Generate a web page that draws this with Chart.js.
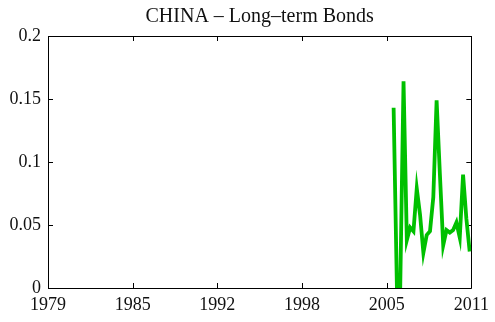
<!DOCTYPE html>
<html>
<head>
<meta charset="utf-8">
<script src="https://cdn.jsdelivr.net/npm/chart.js@4/dist/chart.umd.min.js"></script>
<style>
html,body{margin:0;padding:0;background:#fff;}
#wrap{width:495px;height:322px;position:relative;}
</style>
</head>
<body>
<div id="wrap"><canvas id="c" width="495" height="322"></canvas></div>
<script>
const chartTitle = 'CHINA \u2013 Long\u2013term Bonds';
const dates = [2005.125, 2005.375, 2005.625, 2005.875, 2006.125, 2006.375, 2006.625, 2006.875,
               2007.125, 2007.375, 2007.625, 2007.875, 2008.125, 2008.375, 2008.625, 2008.875,
               2009.125, 2009.375, 2009.625, 2009.875, 2010.125, 2010.375, 2010.625, 2010.875];
const bondValues = [0.143, 0, 0, 0.164, 0.038, 0.048, 0.045, 0.079,
                    0.058, 0.028, 0.042, 0.045, 0.072, 0.149, 0.090, 0.034,
                    0.046, 0.044, 0.046, 0.052, 0.040, 0.090, 0.055, 0.029];
const xTickValues = [1979, 1985.4, 1991.8, 1998.2, 2004.6, 2011];
const xTickLabels = ['1979', '1985', '1992', '1998', '2005', '2011'];
const yTickValues = [0, 0.05, 0.1, 0.15, 0.2];
const yTickLabels = ['0', '0.05', '0.1', '0.15', '0.2'];

const FONT = '"Liberation Serif", "DejaVu Serif", serif';

const boxPlugin = {
  id: 'box',
  beforeDatasetsDraw(chart) {
    const {ctx, chartArea: a, scales} = chart;
    ctx.save();
    ctx.strokeStyle = '#000';
    ctx.lineWidth = 1;
    ctx.beginPath();
    ctx.rect(Math.round(a.left) + 0.5, Math.round(a.top) + 0.5, Math.round(a.right - a.left), Math.round(a.bottom - a.top));
    ctx.stroke();
    const L = 5;
    ctx.beginPath();
    xTickValues.forEach(v => {
      const x = Math.round(scales.x.getPixelForValue(v)) + 0.5;
      ctx.moveTo(x, a.bottom); ctx.lineTo(x, a.bottom - L);
      ctx.moveTo(x, a.top); ctx.lineTo(x, a.top + L);
    });
    yTickValues.forEach(v => {
      const y = Math.round(scales.y.getPixelForValue(v)) + 0.5;
      ctx.moveTo(a.left, y); ctx.lineTo(a.left + L, y);
      ctx.moveTo(a.right, y); ctx.lineTo(a.right - L, y);
    });
    ctx.stroke();
    ctx.fillStyle = '#111';
    ctx.font = '20px ' + FONT;
    ctx.textAlign = 'center';
    ctx.textBaseline = 'alphabetic';
    ctx.fillText(chartTitle, (a.left + a.right) / 2, 22);
    ctx.restore();
  }
};

new Chart(document.getElementById('c'), {
  type: 'line',
  data: {
    datasets: [{
      data: dates.map((d, i) => ({x: d, y: bondValues[i]})),
      borderColor: '#00c000',
      borderWidth: 3.8,
      pointRadius: 0,
      tension: 0,
      fill: false
    }]
  },
  options: {
    responsive: false,
    animation: false,
    devicePixelRatio: 1,
    layout: {padding: {top: 36, right: 21, left: 0, bottom: 0}},
    plugins: {legend: {display: false}, title: {display: false}, tooltip: {enabled: false}},
    scales: {
      x: {
        type: 'linear',
        min: 1979, max: 2011,
        grid: {display: false, drawTicks: false},
        border: {display: false},
        afterBuildTicks(scale) { scale.ticks = xTickValues.map(v => ({value: v})); },
        afterFit(scale) { scale.height = 34; },
        ticks: {
          padding: 6,
          color: '#111',
          maxRotation: 0,
          autoSkip: false,
          font: {family: FONT, size: 18},
          callback: (v) => xTickLabels[xTickValues.indexOf(v)]
        }
      },
      y: {
        min: 0, max: 0.2,
        grid: {display: false, drawTicks: false},
        border: {display: false},
        afterBuildTicks(scale) { scale.ticks = yTickValues.map(v => ({value: v})); },
        afterFit(scale) { scale.width = 48; },
        ticks: {
          padding: 7,
          color: '#111',
          autoSkip: false,
          font: {family: FONT, size: 18},
          callback: (v) => yTickLabels[yTickValues.indexOf(v)]
        }
      }
    }
  },
  plugins: [boxPlugin]
});
</script>
</body>
</html>
